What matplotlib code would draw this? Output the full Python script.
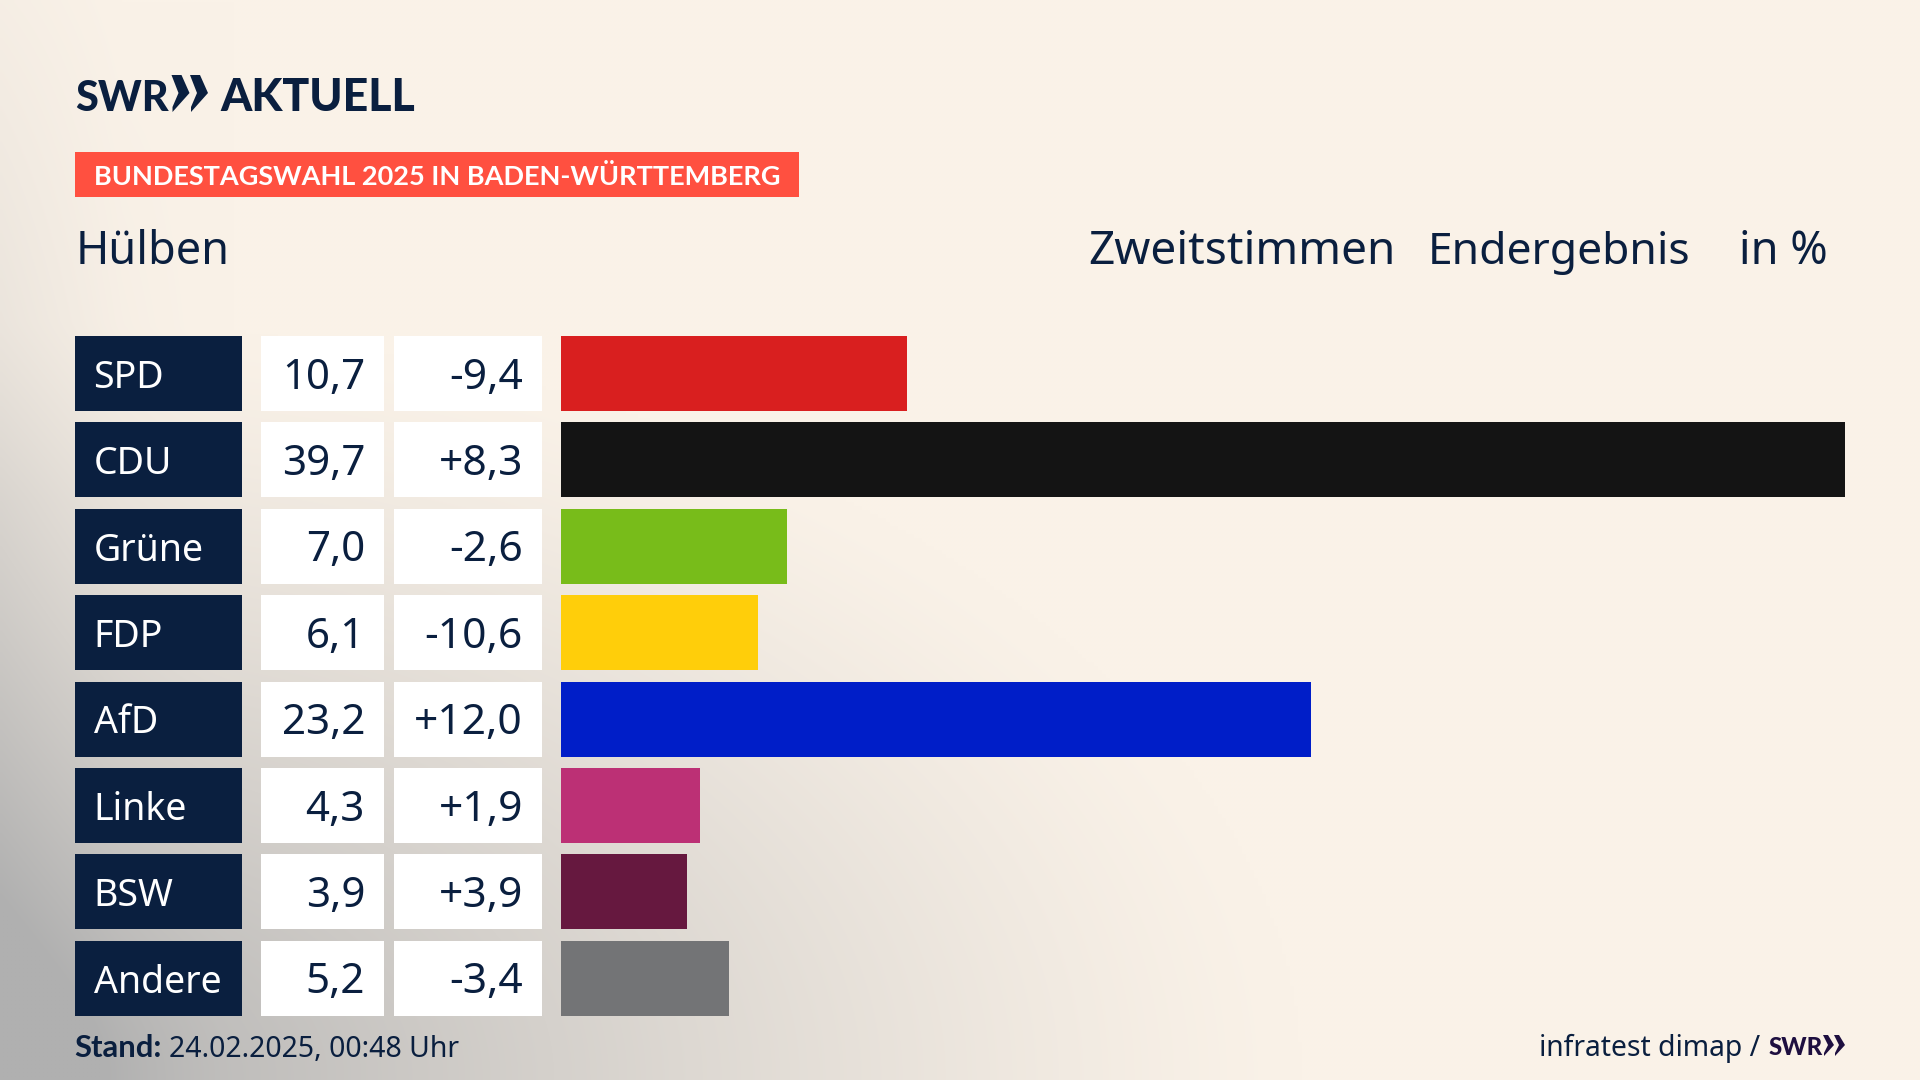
import numpy as np
import matplotlib
matplotlib.use("Agg")
import matplotlib.pyplot as plt
from matplotlib.patches import Rectangle, Polygon

parties = ["SPD", "CDU", "Grüne", "FDP", "AfD", "Linke", "BSW", "Andere"]
shares = [10.7, 39.7, 7.0, 6.1, 23.2, 4.3, 3.9, 5.2]
changes = ["-9,4", "+8,3", "-2,6", "-10,6", "+12,0", "+1,9", "+3,9", "-3,4"]
share_labels = ["10,7", "39,7", "7,0", "6,1", "23,2", "4,3", "3,9", "5,2"]
colors = ["#D91F1F", "#141414", "#78BC1A", "#FFCE0A", "#001EC8", "#BC3075", "#66183F", "#737476"]

W, H = 1920, 1080
NAVY = "#0A1F3F"
FONT = "Noto Sans"
BOLD = "Lato"
pt = 0.72  # px -> pt at dpi 100

fig = plt.figure(figsize=(19.2, 10.8), dpi=100)
bg = fig.add_axes([0, 0, 1, 1])
bg.set_xlim(0, W)
bg.set_ylim(H, 0)
bg.axis("off")

# background gradient
yy, xx = np.mgrid[0:H:270j, 0:W:480j]
base = np.array([250, 242, 232]) / 255
grey = np.array([176, 176, 176]) / 255
d = np.sqrt((xx / 1300) ** 2 + ((H - yy) / 760) ** 2)
t = np.clip(1 - d, 0, 1) ** 1.25
t2 = np.clip(1 - xx / 230, 0, 1) ** 1.5 * np.clip(yy / 500, 0, 1) * 0.22 + np.clip(1 - xx / 120, 0, 1) * 0.06
t = np.clip(t + t2, 0, 1)[..., None]
bg.imshow(base * (1 - t) + grey * t, extent=[0, W, H, 0], aspect="auto", zorder=0, interpolation="bilinear")
bg.set_xlim(0, W)
bg.set_ylim(H, 0)

# layout
ROW_TOP, PITCH, ROW_H = 336, 86.4, 75
for i, party in enumerate(parties):
    top = ROW_TOP + i * PITCH
    bg.add_patch(Rectangle((75, top), 167, ROW_H, color=NAVY, lw=0, zorder=2))
    bg.add_patch(Rectangle((261, top), 123, ROW_H, color="white", lw=0, zorder=2))
    bg.add_patch(Rectangle((394, top), 148, ROW_H, color="white", lw=0, zorder=2))
    base_y = top + 52.5
    bg.text(93.5, base_y - 0.7, party, color="white", fontsize=37.5 * pt, family=FONT, va="baseline", zorder=3)
    bg.text(365, base_y, share_labels[i], color=NAVY, fontsize=42 * pt, family=FONT, ha="right", va="baseline", zorder=3)
    bg.text(523, base_y, changes[i], color=NAVY, fontsize=42.5 * pt, family=FONT, ha="right", va="baseline", zorder=3)

# bars
PX_PER_UNIT = 32.34
ax = fig.add_axes([561 / W, 1 - (ROW_TOP + 7 * PITCH + ROW_H) / H, (W - 561) / W, (7 * PITCH + ROW_H) / H])
ax.patch.set_alpha(0)
ax.set_xlim(0, (W - 561) / PX_PER_UNIT)
half = ROW_H / 2 / PITCH
ax.set_ylim(7 + half, -half)
ax.barh(range(len(parties)), shares, height=ROW_H / PITCH, color=colors, linewidth=0)
ax.axis("off")

# logo
bg.text(75, 111, "SWR", color=NAVY, fontsize=41.5 * pt, family=BOLD, weight="black", va="baseline")
for x0 in (171.5, 190):
    bg.add_patch(Polygon([(x0, 75), (x0 + 10, 75), (x0 + 18, 93), (x0 + 1, 112), (x0 + 1, 107), (x0 + 7, 93)],
                         color=NAVY, lw=0))
bg.text(220, 111, "AKTUELL", color=NAVY, fontsize=44.7 * pt, family=BOLD, weight="black", va="baseline")

# banner
bg.add_patch(Rectangle((75, 152), 724, 45, color="#FF5040", lw=0, zorder=2))
bg.text(94, 185, "BUNDESTAGSWAHL 2025 IN BADEN-WÜRTTEMBERG", color="white", fontsize=27.1 * pt, family=BOLD,
        weight="bold", va="baseline", zorder=3)

# headers
hdr = dict(color=NAVY, family=FONT, va="baseline")
bg.text(76, 264, "Hülben", fontsize=45 * pt, **hdr)
bg.text(1088, 264, "Zweitstimmen", fontsize=46 * pt, **hdr)
bg.text(1428, 264, "Endergebnis", fontsize=44.4 * pt, **hdr)
bg.text(1739, 264, "in %", fontsize=45 * pt, **hdr)

# footer
bg.text(74, 1057, "Stand:", color=NAVY, fontsize=31 * pt, family=BOLD, weight="bold", va="baseline")
bg.text(169, 1057, "24.02.2025, 00:48 Uhr", color=NAVY, fontsize=28.4 * pt, family=FONT, va="baseline")
bg.text(1760, 1056, "infratest dimap /", color=NAVY, fontsize=28.3 * pt, family=FONT, ha="right", va="baseline")
PURPLE = "#1E0F40"
bg.text(1769, 1055, "SWR", color=PURPLE, fontsize=24 * pt, family=BOLD, weight="black", va="baseline")
for x0 in (1823, 1834):
    bg.add_patch(Polygon([(x0, 1035), (x0 + 5, 1035), (x0 + 11, 1045), (x0 + 1, 1056), (x0 + 1, 1053), (x0 + 5, 1045)],
                         color=PURPLE, lw=0))

fig.savefig("out.png", dpi=100)
